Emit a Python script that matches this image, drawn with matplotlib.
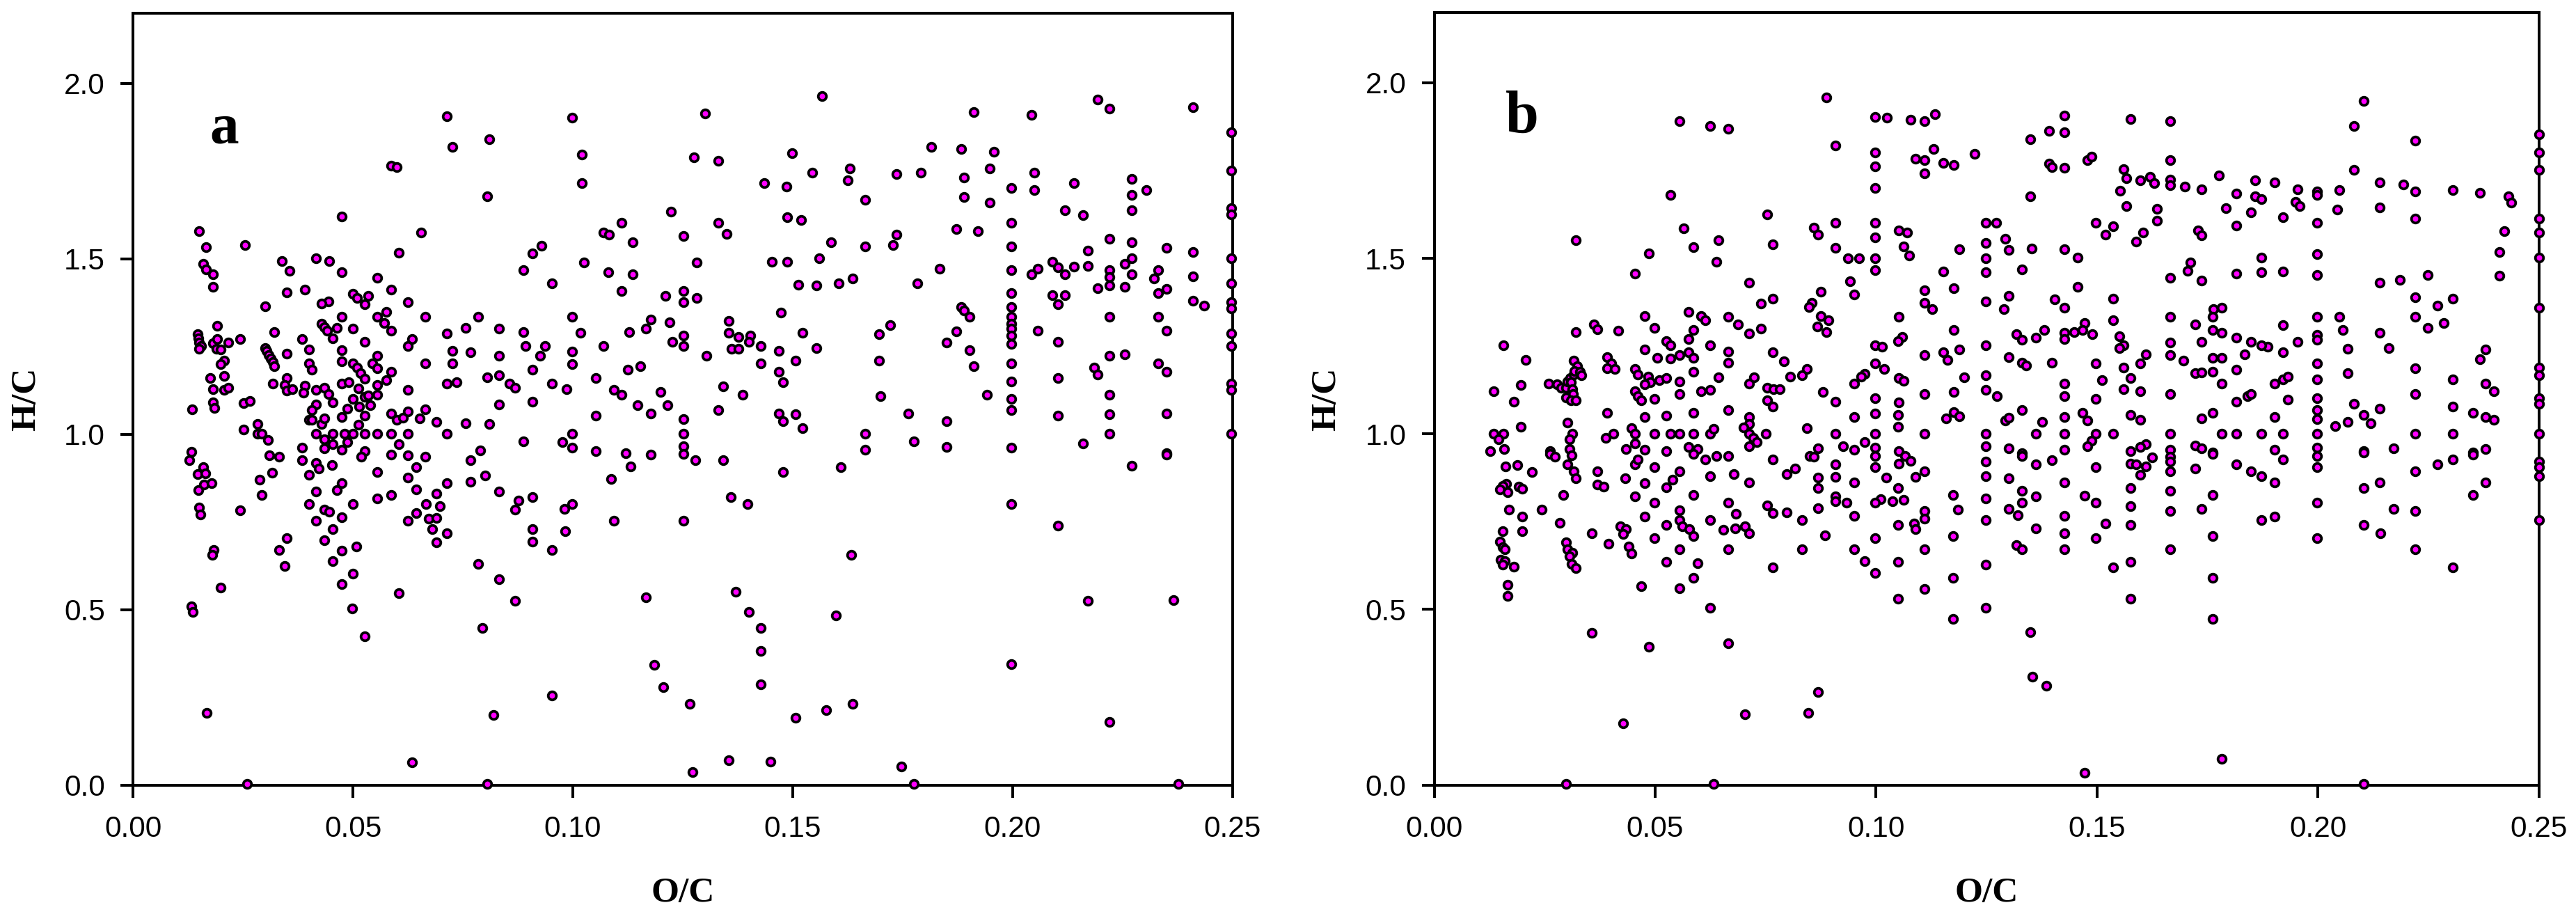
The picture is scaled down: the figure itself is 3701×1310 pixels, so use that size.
import matplotlib
matplotlib.use("Agg")
import matplotlib.pyplot as plt

# O/C, H/C
points_a = [
    (.0714,1.906),(.0810,1.840),(.0726,1.820),(.0999,1.902),(.1020,1.798),(.1020,1.716),(.0587,1.766),(.0600,1.762),
    (.0806,1.679),(.1276,1.789),(.0475,1.621),(.0150,1.578),(.0655,1.575),(.0165,1.533),(.0255,1.540),(.0605,1.517),
    (.1224,1.635),(.1111,1.602),(.1070,1.574),(.1082,1.568),(.1136,1.547),(.1251,1.565),(.0929,1.537),(.0909,1.516),
    (.0888,1.468),(.1025,1.489),(.1282,1.489),(.1081,1.462),(.1136,1.456),(.0952,1.430),(.1111,1.409),(.1210,1.395),
    (.1251,1.409),(.1251,1.377),(.1282,1.389),(.0160,1.486),(.0165,1.469),(.0181,1.456),(.0181,1.420),(.0338,1.493),
    (.0356,1.466),(.0416,1.502),(.0446,1.493),(.0475,1.462),(.0555,1.446),(.0587,1.413),(.0391,1.413),(.0350,1.405),
    (.0301,1.365),(.0499,1.400),(.0509,1.389),(.0535,1.395),(.0526,1.370),(.0444,1.379),(.0429,1.373),(.0625,1.377),
    (.0475,1.335),(.0555,1.335),(.0575,1.348),(.0571,1.317),(.0587,1.295),(.0665,1.335),(.0784,1.335),(.0999,1.335),
    (.0756,1.304),(.0714,1.288),(.0833,1.302),(.0888,1.291),(.1017,1.290),(.1177,1.326),(.1167,1.302),(.1220,1.319),
    (.1129,1.291),(.1251,1.282),(.1227,1.263),(.1251,1.252),(.1070,1.252),(.0191,1.309),(.0147,1.285),(.0149,1.274),
    (.0150,1.262),(.0155,1.252),(.0150,1.243),(.0182,1.260),(.0191,1.272),(.0189,1.244),(.0199,1.241),(.0216,1.262),
    (.0243,1.271),(.0321,1.292),(.0384,1.271),(.0429,1.315),(.0435,1.306),(.0441,1.296),(.0464,1.304),(.0454,1.274),
    (.0499,1.302),(.0526,1.264),(.0635,1.272),(.0625,1.251),(.0400,1.241),(.0301,1.245),(.0304,1.237),(.0308,1.226),
    (.0313,1.215),(.0318,1.205),(.0321,1.194),(.0350,1.230),(.0475,1.239),(.0555,1.224),(.0475,1.208),(.0499,1.202),
    (.0544,1.202),(.0555,1.188),(.0509,1.189),(.0517,1.175),(.0526,1.158),(.0400,1.202),(.0407,1.185),(.0665,1.202),
    (.0726,1.202),(.0726,1.237),(.0768,1.233),(.0833,1.224),(.0893,1.252),(.0937,1.252),(.0925,1.224),(.0999,1.235),
    (.0999,1.200),(.0909,1.184),(.1125,1.184),(.1154,1.193),(.1052,1.160),(.0587,1.178),(.0576,1.155),(.0555,1.141),
    (.0555,1.113),(.0625,1.126),(.0207,1.210),(.0199,1.200),(.0207,1.167),(.0175,1.160),(.0181,1.128),(.0207,1.126),
    (.0216,1.133),(.0181,1.091),(.0184,1.074),(.0134,1.070),(.0252,1.089),(.0265,1.095),(.0317,1.144),(.0349,1.160),
    (.0344,1.141),(.0350,1.124),(.0362,1.128),(.0391,1.139),(.0388,1.118),(.0416,1.126),(.0435,1.133),(.0444,1.114),
    (.0454,1.091),(.0475,1.144),(.0490,1.149),(.0513,1.130),(.0499,1.101),(.0526,1.107),(.0534,1.111),(.0540,1.082),
    (.0514,1.078),(.0487,1.072),(.0416,1.085),(.0407,1.068),(.0526,1.054),(.0475,1.049),(.0587,1.060),(.0600,1.041),
    (.0614,1.047),(.0625,1.064),(.0665,1.070),(.0652,1.045),(.0690,1.035),(.0756,1.031),(.0810,1.029),(.0833,1.085),
    (.0806,1.163),(.0833,1.168),(.0856,1.144),(.0869,1.132),(.0909,1.092),(.0714,1.144),(.0735,1.148),(.0952,1.144),
    (.0986,1.128),(.1052,1.053),(.1094,1.126),(.1111,1.113),(.1199,1.121),(.1216,1.082),(.1148,1.082),(.1177,1.059),
    (.1251,1.044),(.1251,1.002),(.1251,.965),(.0999,1.002),(.0999,.961),(.0888,.979),(.0976,.977),(.0714,1.002),
    (.0625,1.002),(.0587,1.002),(.0555,1.002),(.0526,1.002),(.0499,1.002),(.0481,1.002),(.0454,1.002),(.0416,1.002),
    (.0429,1.029),(.0435,1.045),(.0400,1.041),(.0407,1.041),(.0283,1.030),(.0252,1.013),(.0283,1.002),(.0293,1.002),
    (.0306,.984),(.0513,1.027),(.0435,.986),(.0454,.972),(.0487,.977),(.0605,.971),(.0384,.962),(.0435,.959),
    (.0475,.956),(.0526,.951),(.0132,.950),(.0789,.953),(.1052,.951),
    (.0127,.926),(.0160,.906),(.0147,.886),(.0164,.888),(.0161,.856),(.0178,.860),(.0148,.840),(.0150,.792),
    (.0153,.772),(.0183,.670),(.0180,.656),(.0199,.563),(.0132,.510),(.0135,.494),(.0168,.206),(.0259,.003),
    (.0243,.784),(.0288,.871),(.0293,.826),(.0316,.891),(.0310,.940),(.0332,.936),(.0384,.926),(.0400,.884),
    (.0416,.919),(.0422,.902),(.0453,.912),(.0416,.837),(.0400,.802),(.0416,.753),(.0435,.785),(.0446,.779),
    (.0475,.860),(.0464,.840),(.0475,.764),(.0499,.802),(.0454,.729),(.0435,.698),(.0475,.669),(.0508,.681),
    (.0454,.638),(.0499,.602),(.0475,.573),(.0498,.503),(.0526,.424),(.0350,.703),(.0332,.670),(.0344,.624),
    (.0555,.892),(.0555,.817),(.0587,.826),(.0519,.936),(.0587,.942),(.0625,.940),(.0665,.936),(.0625,.877),
    (.0644,.906),(.0644,.842),(.0690,.830),(.0666,.802),(.0697,.795),(.0714,.860),(.0644,.776),(.0625,.753),
    (.0673,.760),(.0690,.762),(.0681,.729),(.0714,.717),(.0690,.692),(.0605,.548),(.0635,.065),(.0768,.926),
    (.0768,.865),(.0800,.883),(.0833,.837),(.0877,.810),(.0869,.785),(.0909,.821),(.0909,.729),(.0909,.693),
    (.0952,.670),(.0981,.787),(.0999,.802),(.0983,.724),(.0784,.630),(.0833,.586),(.0869,.525),(.0794,.447),
    (.0819,.199),(.0806,.003),(.0952,.256),(.1087,.872),(.1132,.909),(.1093,.753),(.1251,.753),(.1177,.942),
    (.1251,.944),(.1279,.926),(.1167,.536),(.1186,.343),(.1206,.279),(.1266,.231),(.1272,.038),
    (.1567,1.963),(.1301,1.915),(.1912,1.918),(.2043,1.911),(.2193,1.953),(.2220,1.928),(.2411,1.933),(.2498,1.860),
    (.2498,1.752),(.2498,1.644),(.2498,1.627),(.1331,1.780),(.1498,1.802),(.1630,1.757),(.1625,1.723),(.1544,1.746),
    (.1435,1.716),(.1486,1.705),(.1665,1.669),(.1736,1.742),(.1792,1.746),(.1815,1.820),(.1884,1.813),(.1958,1.806),
    (.1890,1.732),(.1949,1.758),(.1890,1.677),(.1949,1.660),(.1998,1.702),(.2050,1.746),(.2050,1.695),(.2140,1.716),
    (.2271,1.728),(.2305,1.695),(.2271,1.683),(.2271,1.638),(.2119,1.638),(.2160,1.624),(.1998,1.602),(.1998,1.535),
    (.1998,1.468),(.1998,1.402),(.1998,1.363),(.1998,1.334),(.1998,1.315),(.1998,1.301),(.1998,1.282),(.1998,1.258),
    (.1998,1.202),(.1998,1.151),(.1998,1.100),(.1998,1.068),(.1998,.961),(.1331,1.602),(.1350,1.570),(.1487,1.619),
    (.1519,1.611),(.1588,1.547),(.1665,1.535),(.1728,1.540),(.1736,1.568),(.1872,1.585),(.1921,1.579),(.1453,1.492),
    (.1487,1.491),(.1560,1.502),(.1835,1.471),(.2057,1.472),(.2043,1.456),(.2091,1.491),(.2103,1.476),(.2119,1.456),
    (.2140,1.478),(.2172,1.480),(.2172,1.523),(.2220,1.557),(.2271,1.547),(.2351,1.532),(.2411,1.519),(.2271,1.502),
    (.2256,1.486),(.2220,1.468),(.2220,1.447),(.2220,1.424),(.2271,1.456),(.2256,1.421),(.2193,1.416),(.2331,1.468),
    (.2322,1.444),(.2351,1.414),(.2331,1.402),(.2411,1.450),(.2411,1.381),(.2436,1.367),(.2498,1.502),(.2498,1.430),
    (.2498,1.377),(.2498,1.359),(.2498,1.288),(.2498,1.252),(.2498,1.144),(.2498,1.126),(.2498,1.002),(.1513,1.426),
    (.1554,1.425),(.1605,1.430),(.1637,1.444),(.1783,1.430),(.2091,1.396),(.2119,1.396),(.2103,1.370),(.1884,1.363),
    (.1890,1.352),(.1902,1.334),(.1473,1.346),(.1354,1.323),(.1354,1.290),(.1377,1.278),(.1404,1.282),(.1401,1.263),
    (.1361,1.244),(.1377,1.244),(.1427,1.252),(.1469,1.237),(.1523,1.290),(.1554,1.245),(.1696,1.285),(.1722,1.312),
    (.1872,1.293),(.1850,1.261),(.1902,1.240),(.2057,1.295),(.2103,1.264),(.2220,1.334),(.2331,1.334),(.2351,1.295),
    (.2220,1.224),(.2256,1.227),(.2331,1.202),(.2351,1.178),(.2185,1.189),(.2193,1.171),(.2103,1.160),(.1696,1.209),
    (.1912,1.193),(.1427,1.202),(.1507,1.209),(.1469,1.178),(.1478,1.149),(.1304,1.224),(.1342,1.136),(.1386,1.113),
    (.1699,1.108),(.1942,1.113),(.2220,1.113),(.2220,1.057),(.2351,1.060),(.2220,1.002),(.2103,1.054),(.2160,.974),
    (.2351,.945),(.1331,1.068),(.1469,1.060),(.1478,1.038),(.1507,1.058),(.1523,1.018),(.1665,1.002),(.1665,.956),
    (.1763,1.060),(.1850,1.038),(.1850,.964),(.1775,.979),(.1121,.945),
    (.1342,.926),(.1478,.892),(.1610,.906),(.1360,.821),(.1397,.802),(.1998,.802),(.2103,.739),(.2271,.911),
    (.2351,.942),(.1634,.657),(.1371,.551),(.1401,.494),(.1427,.447),(.1427,.383),(.1427,.288),(.1598,.483),
    (.1507,.191),(.1577,.213),(.1637,.231),(.1998,.345),(.2172,.525),(.2366,.528),(.2220,.180),(.1354,.070),
    (.1450,.067),(.1748,.052),(.1775,.003),(.2378,.003),
]

# O/C, H/C
points_b = [
    (.0555,1.891),(.0624,1.877),(.0666,1.869),(.0888,1.958),(.0908,1.821),(.0998,1.902),(.1024,1.900),(.1078,1.895),
    (.1109,1.891),(.1134,1.911),(.0998,1.802),(.0998,1.762),(.0998,1.701),(.0998,1.602),(.0998,1.560),(.0998,1.501),
    (.0998,1.467),(.0998,1.252),(.1013,1.248),(.0998,1.201),(.1019,1.185),(.1130,1.812),(.1089,1.784),(.1109,1.779),
    (.1109,1.742),(.1153,1.771),(.1176,1.766),(.1223,1.798),(.0534,1.680),(.0754,1.625),(.0565,1.586),(.0644,1.551),
    (.0587,1.531),(.0486,1.514),(.0638,1.491),(.0454,1.456),(.0321,1.551),(.0767,1.540),(.0713,1.430),(.0908,1.601),
    (.0860,1.588),(.0868,1.567),(.0908,1.529),(.0936,1.501),(.0961,1.501),(.0941,1.435),(.0951,1.398),(.0875,1.405),
    (.0767,1.385),(.0740,1.372),(.0855,1.373),(.0848,1.361),(.0875,1.335),(.0892,1.323),(.0867,1.305),(.0888,1.291),
    (.0576,1.347),(.0476,1.335),(.0604,1.335),(.0614,1.324),(.0666,1.334),(.0688,1.312),(.0499,1.302),(.0587,1.296),
    (.0576,1.271),(.0740,1.299),(.0713,1.287),(.1051,1.580),(.1070,1.573),(.1062,1.534),(.1075,1.509),(.1189,1.526),
    (.1153,1.463),(.1176,1.414),(.1109,1.409),(.1109,1.373),(.1127,1.356),(.1051,1.334),(.1176,1.296),(.1060,1.276),
    (.1050,1.264),(.1248,1.602),(.1272,1.602),(.1292,1.556),(.1248,1.543),(.1248,1.501),(.1248,1.460),(.1248,1.377),
    (.1289,1.356),(.1248,1.252),(.1189,1.240),(.1152,1.232),(.1161,1.210),(.1109,1.224),(.1200,1.161),(.1248,1.168),
    (.1248,1.126),(.1274,1.107),(.1176,1.119),(.1109,1.113),(.1051,1.160),(.1062,1.151),(.0974,1.172),(.0966,1.163),
    (.0951,1.143),(.0880,1.119),(.0908,1.092),(.0998,1.101),(.1051,1.090),(.1050,1.054),(.0998,1.058),(.0951,1.049),
    (.1176,1.063),(.1189,1.050),(.1159,1.045),(.1292,1.039),(.1248,1.001),(.1248,.965),(.1109,1.001),(.1050,1.020),
    (.0998,1.001),(.0908,1.001),(.0843,1.017),(.0974,.976),(.0998,.960),(.0926,.964),(.0951,.955),(.0868,.958),
    (.1051,.951),(.0156,1.252),(.0207,1.210),(.0134,1.121),(.0196,1.139),(.0180,1.092),(.0196,1.021),(.0134,1.001),
    (.0156,1.001),(.0145,.985),(.0127,.951),(.0158,.956),(.0259,1.143),(.0278,1.141),(.0288,1.131),(.0298,1.132),
    (.0302,1.149),(.0308,1.159),(.0316,1.170),(.0316,1.209),(.0323,1.192),(.0318,1.179),(.0330,1.178),(.0333,1.167),
    (.0310,1.147),(.0313,1.128),(.0315,1.114),(.0298,1.104),(.0310,1.095),(.0321,1.096),(.0321,1.291),(.0362,1.312),
    (.0369,1.298),(.0416,1.293),(.0302,1.032),(.0312,1.001),(.0306,.984),(.0307,.956),(.0262,.951),(.0392,1.218),
    (.0401,1.200),(.0392,1.186),(.0409,1.185),(.0391,1.060),(.0389,.988),(.0405,1.001),(.0454,1.184),(.0461,1.169),
    (.0476,1.240),(.0505,1.217),(.0534,1.215),(.0555,1.225),(.0576,1.233),(.0587,1.217),(.0525,1.264),(.0535,1.252),
    (.0624,1.252),(.0666,1.235),(.0666,1.202),(.0587,1.178),(.0484,1.164),(.0489,1.147),(.0476,1.142),(.0509,1.154),
    (.0526,1.160),(.0555,1.150),(.0454,1.121),(.0461,1.108),(.0468,1.095),(.0499,1.100),(.0555,1.113),(.0604,1.122),
    (.0624,1.126),(.0644,1.162),(.0713,1.143),(.0724,1.162),(.0767,1.232),(.0792,1.207),(.0843,1.185),(.0832,1.168),
    (.0805,1.163),(.0754,1.132),(.0768,1.128),(.0782,1.127),(.0754,1.095),(.0767,1.077),(.0476,1.049),(.0525,1.053),
    (.0587,1.060),(.0666,1.068),(.0713,1.049),(.0713,1.029),(.0700,1.019),(.0446,1.017),(.0454,1.001),(.0454,.972),
    (.0434,.957),(.0476,.955),(.0499,1.001),(.0534,1.001),(.0555,1.001),(.0587,1.001),(.0624,1.001),(.0632,1.015),
    (.0713,1.001),(.0750,1.001),(.0723,.988),(.0730,.977),(.0713,.964),(.0525,.951),(.0576,.962),(.0596,.957),
    (.0161,.908),(.0189,.911),(.0221,.892),(.0163,.858),(.0155,.852),(.0149,.841),(.0166,.835),(.0192,.850),
    (.0200,.844),(.0170,.784),(.0243,.785),(.0199,.765),(.0199,.724),(.0155,.723),(.0149,.693),(.0155,.677),
    (.0160,.671),(.0150,.641),(.0160,.637),(.0155,.627),(.0181,.622),(.0166,.571),(.0166,.538),(.0263,.944),
    (.0274,.936),(.0311,.940),(.0302,.913),(.0316,.893),(.0321,.873),(.0292,.827),(.0285,.747),(.0369,.893),
    (.0369,.856),(.0383,.850),(.0433,.874),(.0454,.914),(.0461,.928),(.0499,.905),(.0476,.860),(.0454,.823),
    (.0499,.804),(.0476,.765),(.0356,.718),(.0422,.737),(.0434,.728),(.0427,.716),(.0394,.688),(.0441,.680),
    (.0446,.660),(.0499,.704),(.0298,.692),(.0302,.672),(.0312,.661),(.0306,.652),(.0311,.629),(.0321,.617),
    (.0468,.566),(.0356,.433),(.0486,.394),(.0428,.175),(.0298,.003),(.0633,.003),(.0555,.893),(.0539,.869),
    (.0525,.847),(.0587,.943),(.0614,.927),(.0639,.938),(.0666,.937),(.0624,.880),(.0678,.886),(.0713,.861),
    (.0587,.827),(.0555,.783),(.0666,.804),(.0683,.772),(.0555,.754),(.0562,.737),(.0525,.741),(.0624,.754),
    (.0577,.729),(.0587,.710),(.0655,.726),(.0681,.731),(.0704,.737),(.0713,.718),(.0555,.671),(.0666,.671),
    (.0525,.635),(.0596,.631),(.0587,.591),(.0555,.560),(.0624,.504),(.0666,.403),(.0704,.201),(.0767,.927),
    (.0816,.902),(.0798,.885),(.0850,.938),(.0860,.935),(.0908,.913),(.0868,.875),(.0908,.877),(.0868,.845),
    (.0908,.823),(.0908,.809),(.0933,.804),(.0951,.861),(.0998,.937),(.0998,.905),(.1023,.876),(.1051,.916),
    (.1066,.937),(.1079,.923),(.1089,.877),(.1109,.893),(.1050,.846),(.1011,.815),(.0998,.804),(.1037,.809),
    (.1062,.813),(.0951,.766),(.0868,.788),(.0798,.777),(.0754,.797),(.0767,.774),(.0832,.754),(.0884,.712),
    (.0832,.671),(.0767,.619),(.0951,.671),(.0974,.638),(.0998,.704),(.0998,.604),(.1050,.741),(.1086,.744),
    (.1089,.729),(.1109,.781),(.1109,.759),(.1109,.671),(.1050,.635),(.1109,.559),(.1050,.530),(.1175,.827),
    (.1186,.784),(.1175,.710),(.1175,.591),(.1175,.474),(.1248,.921),(.1248,.880),(.1248,.817),(.1248,.754),
    (.1248,.628),(.1248,.504),(.0868,.265),(.0846,.206),
    (.1349,1.840),(.1392,1.863),(.1426,1.906),(.1426,1.859),(.1392,1.770),(.1398,1.760),(.1426,1.757),(.1349,1.677),
    (.1478,1.780),(.1487,1.789),(.1576,1.896),(.1665,1.891),(.1665,1.780),(.2104,1.949),(.2082,1.877),(.2220,1.835),
    (.2082,1.752),(.1560,1.753),(.1566,1.728),(.1553,1.692),(.1598,1.723),(.1620,1.733),(.1629,1.715),(.1665,1.725),
    (.1665,1.709),(.1699,1.705),(.1736,1.697),(.1776,1.736),(.1816,1.684),(.1858,1.723),(.1858,1.676),(.1872,1.669),
    (.1902,1.717),(.1954,1.697),(.1998,1.691),(.1998,1.680),(.2048,1.695),(.2140,1.716),(.2194,1.710),(.2220,1.691),
    (.2306,1.695),(.2367,1.686),(.2431,1.677),(.2438,1.659),(.25,1.853),(.25,1.802),(.25,1.752),(.25,1.613),
    (.25,1.574),(.25,1.502),(.25,1.359),(.25,1.188),(.25,1.168),(.25,1.101),(.25,1.085),(.25,1.001),
    (.1566,1.649),(.1636,1.641),(.1636,1.608),(.1497,1.602),(.1536,1.592),(.1519,1.567),(.1605,1.574),(.1588,1.547),
    (.1729,1.579),(.1737,1.566),(.1792,1.643),(.1849,1.632),(.1816,1.593),(.1921,1.618),(.1949,1.661),(.1958,1.649),
    (.1998,1.602),(.2044,1.639),(.2140,1.645),(.2220,1.613),(.2422,1.577),(.2411,1.519),(.2411,1.450),(.1353,1.528),
    (.1426,1.526),(.1456,1.502),(.1330,1.468),(.1301,1.523),(.1456,1.419),(.1301,1.393),(.1405,1.383),(.1426,1.359),
    (.1536,1.386),(.1536,1.324),(.1711,1.488),(.1705,1.465),(.1665,1.445),(.1737,1.437),(.1816,1.456),(.1872,1.460),
    (.1921,1.463),(.1872,1.502),(.1998,1.513),(.1998,1.452),(.2140,1.431),(.2185,1.439),(.2248,1.452),(.2220,1.390),
    (.2306,1.386),(.2271,1.365),(.2220,1.334),(.2248,1.301),(.2285,1.316),(.1665,1.334),(.1763,1.356),(.1783,1.360),
    (.1762,1.333),(.1722,1.312),(.1762,1.296),(.1783,1.288),(.1921,1.309),(.1998,1.334),(.2048,1.334),(.2057,1.296),
    (.1998,1.282),(.1998,1.268),(.1954,1.262),(.2140,1.288),(.2160,1.245),(.2067,1.243),(.1921,1.232),(.1886,1.248),
    (.1872,1.252),(.1849,1.262),(.1816,1.275),(.1834,1.226),(.1783,1.216),(.1762,1.216),(.1737,1.263),(.1665,1.260),
    (.1665,1.224),(.1696,1.209),(.1610,1.227),(.1598,1.201),(.1497,1.201),(.1560,1.252),(.1550,1.244),(.1550,1.278),
    (.1490,1.285),(.1472,1.315),(.1468,1.295),(.1448,1.291),(.1426,1.289),(.1426,1.271),(.1381,1.295),(.1361,1.275),
    (.1317,1.285),(.1330,1.268),(.1301,1.219),(.1330,1.202),(.1339,1.194),(.1398,1.202),(.1560,1.188),(.1576,1.160),
    (.1512,1.153),(.1426,1.143),(.1426,1.108),(.1497,1.100),(.1560,1.127),(.1598,1.121),(.1665,1.113),(.1722,1.174),
    (.1737,1.175),(.1762,1.178),(.1816,1.183),(.1783,1.143),(.1840,1.108),(.1849,1.113),(.1816,1.092),(.1902,1.143),
    (.1921,1.155),(.1932,1.163),(.1932,1.098),(.1998,1.201),(.1998,1.156),(.1998,1.101),(.1998,1.068),(.1998,1.042),
    (.2067,1.174),(.2220,1.187),(.2220,1.113),(.2306,1.155),(.2379,1.241),(.2367,1.212),(.2379,1.144),(.2399,1.121),
    (.2306,1.078),(.2351,1.061),(.2379,1.049),(.2399,1.041),(.2082,1.086),(.2140,1.072),(.2104,1.054),(.2119,1.031),
    (.2067,1.035),(.2039,1.022),(.1902,1.049),(.1762,1.060),(.1737,1.045),(.1576,1.054),(.1598,1.041),(.1468,1.061),
    (.1479,1.038),(.1426,1.049),(.1376,1.035),(.1330,1.068),(.1301,1.046),(.1497,1.001),(.1536,1.001),(.1426,1.001),
    (.1361,1.001),(.1665,1.001),(.1783,1.001),(.1816,1.001),(.1872,1.001),(.1921,1.001),(.1998,1.001),(.2220,1.001),
    (.2306,1.001),(.1610,.970),(.1598,.962),(.1576,.951),(.1487,.980),(.1479,.964),(.1426,.955),(.1301,.958),
    (.1330,.945),(.1665,.955),(.1722,.967),(.1737,.958),(.1762,.947),(.1902,.955),(.1998,.961),(.2104,.951),
    (.2172,.958),(.2351,.947),(.2379,.956),
    (.1330,.937),(.1361,.914),(.1398,.925),(.1497,.905),(.1576,.916),(.1588,.913),(.1610,.908),(.1625,.934),
    (.1665,.936),(.1665,.921),(.1665,.893),(.1598,.884),(.1722,.901),(.1762,.944),(.1816,.913),(.1849,.894),
    (.1872,.879),(.1902,.861),(.1921,.928),(.1998,.937),(.1998,.905),(.2104,.947),(.2104,.846),(.2140,.861),
    (.2220,.893),(.2271,.914),(.2306,.927),(.2351,.942),(.2351,.827),(.2379,.861),(.25,.921),(.25,.905),
    (.25,.880),(.25,.754),(.1301,.873),(.1330,.838),(.1361,.823),(.1330,.804),(.1301,.787),(.1321,.769),
    (.1361,.731),(.1426,.861),(.1426,.766),(.1426,.718),(.1426,.671),(.1472,.824),(.1497,.804),(.1519,.744),
    (.1497,.704),(.1576,.846),(.1576,.794),(.1576,.740),(.1576,.635),(.1576,.530),(.1536,.619),(.1665,.838),
    (.1665,.781),(.1665,.671),(.1762,.827),(.1762,.710),(.1762,.591),(.1762,.474),(.1737,.787),(.1872,.754),
    (.1902,.765),(.1998,.804),(.1998,.703),(.2104,.741),(.2141,.718),(.2172,.787),(.2220,.781),(.2220,.671),
    (.2306,.619),(.1317,.683),(.1330,.671),(.1349,.436),(.1354,.308),(.1386,.282),(.1472,.036),(.1783,.074),
    (.2104,.003),
]

x_ticks = [0.00, 0.05, 0.10, 0.15, 0.20, 0.25]
y_ticks = [0.0, 0.5, 1.0, 1.5, 2.0]
W, H = 3701, 1310


def draw_panel(box, points, letter, letter_pos, letter_size, ylabel_x):
    left, right, top, bottom = box
    ax = fig.add_axes([left / W, 1 - bottom / H, (right - left) / W, (bottom - top) / H])
    oc = [p[0] for p in points]
    hc = [p[1] for p in points]
    ax.plot(oc, hc, ls="none", marker="o", ms=8.4, mfc="#ff00ff", mec="black", mew=2.7, clip_on=False, zorder=5)
    ax.set_xlim(0, 0.25)
    ax.set_ylim(0, 2.2)
    ax.set_xticks(x_ticks)
    ax.set_yticks(y_ticks)
    ax.set_xticklabels([f"{v:.2f}" for v in x_ticks])
    ax.set_yticklabels([f"{v:.1f}" for v in y_ticks])
    ax.tick_params(length=13, width=2.9, labelsize=30.5, pad=16)
    ax.tick_params(axis="x", pad=18.5)
    for s in ax.spines.values():
        s.set_linewidth(2.9)
    for lab in ax.get_xticklabels() + ax.get_yticklabels():
        lab.set_family("Liberation Sans")
    ax.set_xlabel("O/C", family="Liberation Serif", weight="bold", fontsize=37)
    ax.xaxis.set_label_coords(0.5, -(1295 - bottom) / (bottom - top), transform=ax.transAxes)
    ax.xaxis.label.set_va("baseline")
    ax.set_ylabel("H/C", family="Liberation Serif", weight="bold", fontsize=37)
    ax.yaxis.set_label_coords((ylabel_x - left) / (right - left), 0.5, transform=ax.transAxes)
    ax.yaxis.label.set_va("baseline")
    ax.text(letter_pos[0], letter_pos[1], letter, family="Liberation Serif", weight="bold",
            fontsize=letter_size, ha="center", va="baseline")
    return ax


fig = plt.figure(figsize=(W / 100, H / 100), dpi=100, facecolor="white")
draw_panel((191.3, 1770.5, 19, 1127.7), points_a, "a", (0.0207, 1.83), 60, 50)
draw_panel((2060.5, 3647.6, 18, 1127.7), points_b, "b", (0.0199, 1.859), 62, 1918)

fig.savefig("out.png", dpi=100)
